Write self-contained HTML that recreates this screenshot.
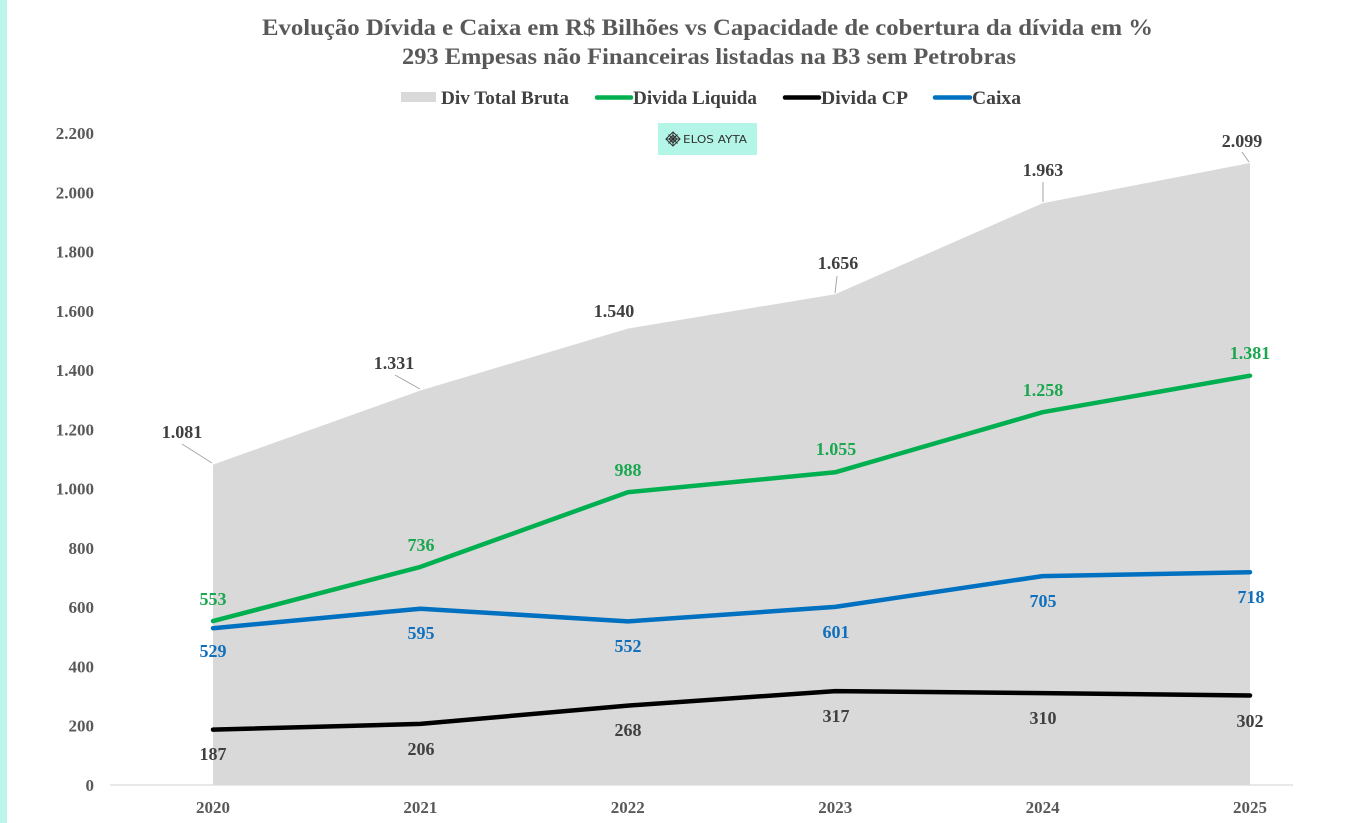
<!DOCTYPE html>
<html>
<head>
<meta charset="utf-8">
<style>
  html,body{margin:0;padding:0;background:#fff;}
  body{width:1364px;height:823px;overflow:hidden;position:relative;}
  svg{position:absolute;left:0;top:0;}
  .t{font-family:"Liberation Serif",serif;font-weight:bold;}
</style>
</head>
<body>
<svg width="1364" height="823" viewBox="0 0 1364 823" xmlns="http://www.w3.org/2000/svg">
  <rect x="0" y="0" width="1364" height="823" fill="#ffffff"/>
  <rect x="0" y="0" width="7" height="823" fill="#bdf5ea"/>

  <!-- Title -->
  <text class="t" x="262" y="35" font-size="23" fill="#595959" textLength="891" lengthAdjust="spacingAndGlyphs">Evolução Dívida e Caixa em R$  Bilhões  vs Capacidade de cobertura da dívida em %</text>
  <text class="t" x="402" y="64" font-size="23" fill="#595959" textLength="614" lengthAdjust="spacingAndGlyphs">293 Empesas não Financeiras listadas na B3 sem Petrobras</text>

  <!-- Legend -->
  <rect x="401" y="92" width="35" height="10" fill="#d9d9d9"/>
  <text class="t" x="441" y="104" font-size="18.5" fill="#404040" textLength="128" lengthAdjust="spacingAndGlyphs">Div Total Bruta</text>
  <line x1="597" y1="97.5" x2="631" y2="97.5" stroke="#00b050" stroke-width="4.5" stroke-linecap="round"/>
  <text class="t" x="633" y="104" font-size="18.5" fill="#404040" textLength="124" lengthAdjust="spacingAndGlyphs">Divida Liquida</text>
  <line x1="785" y1="97.5" x2="819" y2="97.5" stroke="#000000" stroke-width="4.5" stroke-linecap="round"/>
  <text class="t" x="821" y="104" font-size="18.5" fill="#404040" textLength="87" lengthAdjust="spacingAndGlyphs">Divida CP</text>
  <line x1="935" y1="97.5" x2="970" y2="97.5" stroke="#0070c0" stroke-width="4.5" stroke-linecap="round"/>
  <text class="t" x="972" y="104" font-size="18.5" fill="#404040" textLength="49" lengthAdjust="spacingAndGlyphs">Caixa</text>

  <!-- Area -->
  <polygon points="213,785 213,464.6 420.4,390.5 627.8,328.6 835.2,294.2 1042.6,203.2 1250,163 1250,785" fill="#d9d9d9"/>

  <!-- Logo -->
  <rect x="658" y="123" width="99" height="32" fill="#b3f5e6"/>
  <g transform="translate(673,139)" stroke="#333" stroke-width="1" fill="none">
    <rect x="-5" y="-5" width="10" height="10" transform="rotate(45)"/>
    <rect x="-2.8" y="-2.8" width="5.6" height="5.6" transform="rotate(45)"/>
    <line x1="-6.5" y1="0" x2="6.5" y2="0"/>
    <line x1="0" y1="-6.5" x2="0" y2="6.5"/>
    <line x1="-4.5" y1="-4.5" x2="4.5" y2="4.5"/>
    <line x1="-4.5" y1="4.5" x2="4.5" y2="-4.5"/>
  </g>
  <text x="683" y="143" font-family="'DejaVu Sans','Liberation Sans',sans-serif" font-size="10.5" fill="#333333" textLength="64" lengthAdjust="spacingAndGlyphs">ELOS AYTA</text>

  <!-- X axis -->
  <line x1="110" y1="785" x2="1293" y2="785" stroke="#d9d9d9" stroke-width="1.2"/>

  <!-- Y tick labels -->
  <g class="t" font-size="17" fill="#595959" text-anchor="end">
    <text x="94" y="791">0</text>
    <text x="94" y="731.7">200</text>
    <text x="94" y="672.5">400</text>
    <text x="94" y="613.2">600</text>
    <text x="94" y="553.9">800</text>
    <text x="94" y="494.6">1.000</text>
    <text x="94" y="435.4">1.200</text>
    <text x="94" y="376.1">1.400</text>
    <text x="94" y="316.8">1.600</text>
    <text x="94" y="257.5">1.800</text>
    <text x="94" y="198.3">2.000</text>
    <text x="94" y="139">2.200</text>
  </g>

  <!-- X labels -->
  <g class="t" font-size="17" fill="#595959" text-anchor="middle">
    <text x="213" y="813">2020</text>
    <text x="420.4" y="813">2021</text>
    <text x="627.8" y="813">2022</text>
    <text x="835.2" y="813">2023</text>
    <text x="1042.6" y="813">2024</text>
    <text x="1250" y="813">2025</text>
  </g>

  <!-- Leader lines -->
  <g stroke="#a6a6a6" stroke-width="1" fill="none">
    <line x1="182" y1="444" x2="212" y2="463"/>
    <line x1="395" y1="375" x2="420" y2="389"/>
    <line x1="837" y1="276" x2="835" y2="293"/>
    <line x1="1043" y1="182" x2="1043" y2="202"/>
    <line x1="1242" y1="152" x2="1249" y2="162"/>
  </g>

  <!-- Lines -->
  <polyline points="213,729.6 420.4,723.9 627.8,705.6 835.2,691.1 1042.6,693.1 1250,695.5" fill="none" stroke="#000000" stroke-width="4.5" stroke-linecap="round" stroke-linejoin="round"/>
  <polyline points="213,628.2 420.4,608.7 627.8,621.4 835.2,606.9 1042.6,576.1 1250,572.2" fill="none" stroke="#0070c0" stroke-width="4.5" stroke-linecap="round" stroke-linejoin="round"/>
  <polyline points="213,621.1 420.4,566.9 627.8,492.2 835.2,472.3 1042.6,412.2 1250,375.7" fill="none" stroke="#00b050" stroke-width="4.5" stroke-linecap="round" stroke-linejoin="round"/>

  <!-- Data labels: total -->
  <g class="t" font-size="18" fill="#404040" text-anchor="middle">
    <text x="182" y="438">1.081</text>
    <text x="394" y="369">1.331</text>
    <text x="614" y="317">1.540</text>
    <text x="838" y="269">1.656</text>
    <text x="1043" y="176">1.963</text>
    <text x="1242" y="147">2.099</text>
  </g>
  <!-- green -->
  <g class="t" font-size="18" fill="#1aa74f" text-anchor="middle">
    <text x="213" y="605">553</text>
    <text x="421" y="551">736</text>
    <text x="628" y="476">988</text>
    <text x="836" y="455">1.055</text>
    <text x="1043" y="396">1.258</text>
    <text x="1250" y="359">1.381</text>
  </g>
  <!-- blue -->
  <g class="t" font-size="18" fill="#1070bd" text-anchor="middle">
    <text x="213" y="657">529</text>
    <text x="421" y="639">595</text>
    <text x="628" y="652">552</text>
    <text x="836" y="638">601</text>
    <text x="1043" y="607">705</text>
    <text x="1251" y="603">718</text>
  </g>
  <!-- black -->
  <g class="t" font-size="18" fill="#404040" text-anchor="middle">
    <text x="213" y="760">187</text>
    <text x="421" y="755">206</text>
    <text x="628" y="736">268</text>
    <text x="836" y="722">317</text>
    <text x="1043" y="724">310</text>
    <text x="1250" y="727">302</text>
  </g>
</svg>
</body>
</html>
